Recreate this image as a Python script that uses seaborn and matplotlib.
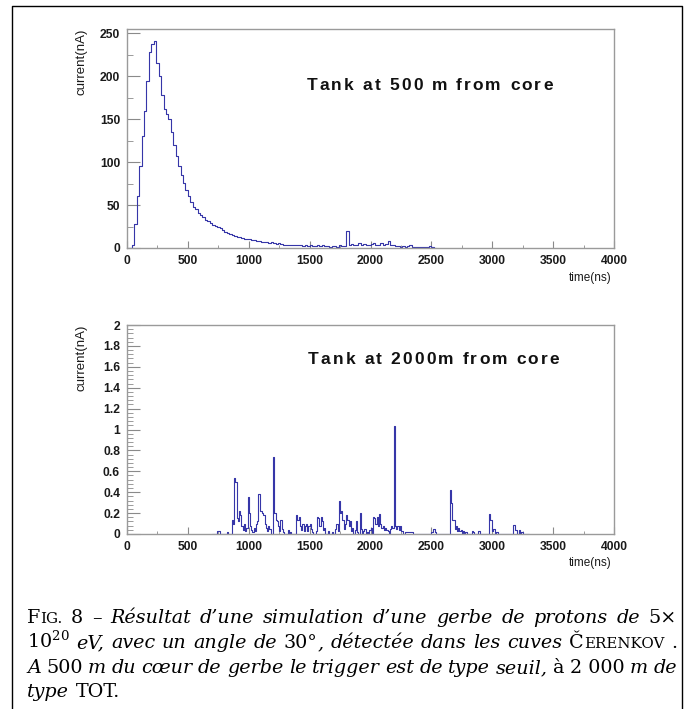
import numpy as np
import pandas as pd
import seaborn as sns
import matplotlib.pyplot as plt
from matplotlib.lines import Line2D
from matplotlib.ticker import MultipleLocator, FuncFormatter
from matplotlib.offsetbox import TextArea, HPacker, AnchoredOffsetbox

# ---- data ----
# tank at 500 m: current (nA) in 20 ns bins starting at 0 ns
near_bw = 20
near_current = [
    0, 0, 3, 28, 60, 95, 130, 160, 195, 228,
    238, 241, 215, 200, 178, 162, 156, 150, 135, 120,
    107, 95, 85, 76, 68, 60, 54, 48, 45, 41,
    38, 36, 33, 32, 29, 27, 26, 25, 23, 21,
    19, 18, 16, 15, 14, 13, 13, 12, 11, 10,
    10, 9, 9, 8, 8, 7, 7, 7, 6, 7,
    6, 5, 6, 5, 4, 4, 4, 3, 4, 3,
    3, 3, 2, 3, 2, 3, 2, 2, 3, 2,
    3, 2, 2, 1, 2, 2, 1, 3, 2, 2,
    20, 3, 5, 3, 4, 6, 3, 5, 4, 3,
    5, 6, 3, 4, 6, 3, 5, 8, 4, 3,
    2, 2, 1, 2, 1, 2, 3, 1, 1, 1,
    1, 1, 1, 1, 2, 1, 0,
]

# tank at 2000 m: non-empty 10 ns bins (bin centre in ns, current in nA)
far_bw = 10
far_time = [
    745, 755, 825, 865, 875, 885, 895, 905, 915, 925, 935, 945, 955, 965,
    975, 985, 995, 1005, 1015, 1025, 1035, 1045, 1055, 1065, 1075, 1085,
    1095, 1105, 1115, 1125, 1135, 1145, 1155, 1165, 1175, 1205, 1215, 1225,
    1235, 1245, 1255, 1265, 1275, 1285, 1325, 1345, 1395, 1405, 1415, 1425,
    1435, 1445, 1455, 1465, 1475, 1485, 1495, 1505, 1515, 1525, 1555, 1565,
    1575, 1585, 1595, 1605, 1615, 1625, 1655, 1685, 1715, 1725, 1735, 1745,
    1755, 1765, 1775, 1785, 1795, 1805, 1815, 1825, 1835, 1845, 1855, 1875,
    1885, 1895, 1915, 1925, 1945, 1955, 1975, 1995, 2005, 2025, 2035, 2045,
    2055, 2065, 2075, 2085, 2095, 2105, 2115, 2125, 2135, 2145, 2165, 2175,
    2185, 2195, 2205, 2215, 2225, 2235, 2245, 2255, 2265, 2285, 2295, 2305,
    2315, 2325, 2335, 2345, 2505, 2515, 2525, 2535, 2655, 2665, 2675, 2685,
    2695, 2705, 2715, 2725, 2735, 2745, 2765, 2785, 2835, 2845, 2885, 2895,
    2975, 2985, 2995, 3005, 3015, 3035, 3045, 3175, 3185, 3195, 3225, 3245,
]
far_current = [
    0.03, 0.03, 0.02, 0.13, 0.10, 0.54, 0.50, 0.15, 0.12, 0.22, 0.18, 0.08, 0.04, 0.10,
    0.03, 0.06, 0.35, 0.20, 0.08, 0.04, 0.02, 0.06, 0.03, 0.10, 0.12, 0.38,
    0.22, 0.22, 0.20, 0.18, 0.10, 0.06, 0.03, 0.08, 0.05, 0.74, 0.20, 0.13,
    0.12, 0.08, 0.03, 0.13, 0.05, 0.02, 0.04, 0.02, 0.18, 0.13, 0.16, 0.08,
    0.04, 0.10, 0.03, 0.08, 0.10, 0.03, 0.08, 0.10, 0.05, 0.02, 0.03, 0.16,
    0.15, 0.08, 0.16, 0.12, 0.04, 0.06, 0.03, 0.02, 0.05, 0.10, 0.03, 0.32,
    0.20, 0.22, 0.13, 0.05, 0.10, 0.18, 0.13, 0.08, 0.12, 0.03, 0.06, 0.04,
    0.12, 0.02, 0.20, 0.05, 0.03, 0.05, 0.02, 0.04, 0.06, 0.16, 0.15, 0.10,
    0.16, 0.08, 0.19, 0.10, 0.06, 0.08, 0.04, 0.06, 0.04, 0.03, 0.05, 0.08,
    0.06, 1.03, 0.08, 0.05, 0.08, 0.04, 0.08, 0.03, 0.03, 0.02, 0.02, 0.02,
    0.02, 0.02, 0.02, 0.02, 0.02, 0.05, 0.05, 0.02, 0.42, 0.30, 0.13, 0.13,
    0.05, 0.08, 0.03, 0.06, 0.03, 0.04, 0.03, 0.02, 0.03, 0.02, 0.03, 0.03,
    0.19, 0.13, 0.13, 0.03, 0.05, 0.02, 0.02, 0.09, 0.09, 0.04, 0.04, 0.02,
]

titles = ['Tank at 500 m from core', 'Tank at 2000m from core']

# caption, word by word: (text, style)
caption = [
    [[('F', 'rm'), ('IG.', 'sc')], [('8', 'rm')], [('–', 'rm')], [('Résultat', 'it')],
     [('d’une', 'it')], [('simulation', 'it')], [('d’une', 'it')], [('gerbe', 'it')],
     [('de', 'it')], [('protons', 'it')], [('de', 'it')], [('5×', 'rm')]],
    [[('$10^{20}$', 'rm')], [('eV,', 'it')], [('avec', 'it')], [('un', 'it')],
     [('angle', 'it')], [('de', 'it')], [('30°', 'rm'), (',', 'it')], [('détectée', 'it')],
     [('dans', 'it')], [('les', 'it')], [('cuves', 'it')], [('Č', 'rm'), ('ERENKOV', 'sc')],
     [('.', 'rm')]],
    [[('A', 'it')], [('500', 'rm')], [('m', 'it')], [('du', 'it')], [('cœur', 'it')],
     [('de', 'it')], [('gerbe', 'it')], [('le', 'it')], [('trigger', 'it')], [('est', 'it')],
     [('de', 'it')], [('type', 'it')], [('seuil,', 'it')], [('à', 'rm')], [('2 000', 'rm')],
     [('m', 'it')], [('de', 'it')]],
    [[('type', 'it')], [('TOT.', 'rm')]],
]

near = pd.DataFrame({
    'time': np.arange(len(near_current)) * near_bw + near_bw / 2,
    'current': near_current,
})
far = pd.DataFrame({'time': far_time, 'current': far_current})

# ---- style ----
sns.set_style("ticks")
plt.rcParams['font.family'] = ['Liberation Sans', 'DejaVu Sans']
plt.rcParams['font.weight'] = 'bold'
plt.rcParams['mathtext.fontset'] = 'custom'
plt.rcParams['mathtext.rm'] = 'DejaVu Serif:normal'
plt.rcParams['mathtext.it'] = 'DejaVu Serif:italic:normal'

line_color = '#3636a8'
W, H = 690, 709

fig = plt.figure(figsize=(W / 100, H / 100), dpi=100)
ax1 = fig.add_axes([127 / W, 1 - 248 / H, 487 / W, 219 / H])
ax2 = fig.add_axes([127 / W, 1 - 534 / H, 487 / W, 209 / H])

sns.histplot(data=near, x='time', weights='current',
             bins=list(np.arange(0, len(near_current) * near_bw + 1, near_bw)),
             element='step', fill=False, color=line_color, linewidth=0.8, ax=ax1)
sns.histplot(data=far, x='time', weights='current',
             bins=list(np.arange(700, 3300 + far_bw, far_bw)),
             element='step', fill=False, color=line_color, linewidth=0.8, ax=ax2)

ax1.set_ylim(0, 255)
ax1.yaxis.set_major_locator(MultipleLocator(50))
ax1.yaxis.set_minor_locator(MultipleLocator(25))
ax2.set_ylim(0, 2)
ax2.yaxis.set_major_locator(MultipleLocator(0.2))
ax2.yaxis.set_minor_locator(MultipleLocator(0.04))
ax2.yaxis.set_major_formatter(FuncFormatter(lambda v, p: f'{v:g}'))


def spaced_text(s, size, gap):
    chars = [TextArea(c, textprops=dict(fontsize=size, fontweight='bold', color='#111111'))
             for c in s]
    return HPacker(children=chars, pad=0, sep=gap, align='baseline')


title_pos = [(0.369, 0.744), (0.372, 0.837)]
for ax, title, pos in zip((ax1, ax2), titles, title_pos):
    ax.set_xlim(0, 4000)
    ax.xaxis.set_major_locator(MultipleLocator(500))
    ax.xaxis.set_minor_locator(MultipleLocator(250))
    ax.tick_params(axis='both', which='both', direction='in', colors='#8a8a8a',
                   labelcolor='#1a1a1a', labelsize=8.7, top=False, right=False)
    ax.tick_params(axis='x', which='major', length=5, pad=5)
    ax.tick_params(axis='x', which='minor', length=2.5)
    ax.tick_params(axis='y', which='major', length=9, pad=5)
    ax.tick_params(axis='y', which='minor', length=4.5)
    for sp in ax.spines.values():
        sp.set_visible(True)
        sp.set_color('#9a9a9a')
        sp.set_linewidth(1.0)

    ax.set_xlabel('time(ns)', fontsize=8.5, color='#1a1a1a')
    ax.xaxis.set_label_coords(0.995, -30 / 219)
    ax.xaxis.label.set_ha('right')
    ax.xaxis.label.set_va('center')
    ax.set_ylabel('current(nA)', fontsize=9.5, color='#1a1a1a')
    ax.yaxis.set_label_coords(-40 / 487, 1.0)
    ax.yaxis.label.set_ha('right')
    ax.yaxis.label.set_va('bottom')

    box = AnchoredOffsetbox(loc='center left', child=spaced_text(title, 12.5, 1.5),
                            pad=0, borderpad=0, frameon=False,
                            bbox_to_anchor=pos, bbox_transform=ax.transAxes)
    ax.add_artist(box)

# page frame around the figure
fig.add_artist(Line2D([12 / W, 12 / W, 682 / W, 682 / W], [0, 1 - 6 / H, 1 - 6 / H, 0],
                      color='black', lw=1.0, transform=fig.transFigure))

# ---- caption ----
styles = {
    'rm': dict(family='DejaVu Serif', fontsize=13.8, fontweight='normal', color='black'),
    'it': dict(family='DejaVu Serif', fontsize=13.8, fontweight='normal', style='italic',
               color='black'),
    'sc': dict(family='DejaVu Serif', fontsize=10.8, fontweight='normal', color='black'),
}
baselines = [623, 648, 673, 697]
for i, (words, base) in enumerate(zip(caption, baselines)):
    boxes = [HPacker(children=[TextArea(t, textprops=styles[s]) for t, s in w],
                     pad=0, sep=0, align='baseline') for w in words]
    if i < len(caption) - 1:
        row = HPacker(children=boxes, pad=0, sep=0, width=650, mode='expand', align='baseline')
    else:
        row = HPacker(children=boxes, pad=0, sep=5, align='baseline')
    fig.add_artist(AnchoredOffsetbox(loc='lower left', child=row, pad=0, borderpad=0,
                                     frameon=False, bbox_to_anchor=(27 / W, 1 - (base + 4) / H),
                                     bbox_transform=fig.transFigure))

fig.savefig('out.png', dpi=100)
